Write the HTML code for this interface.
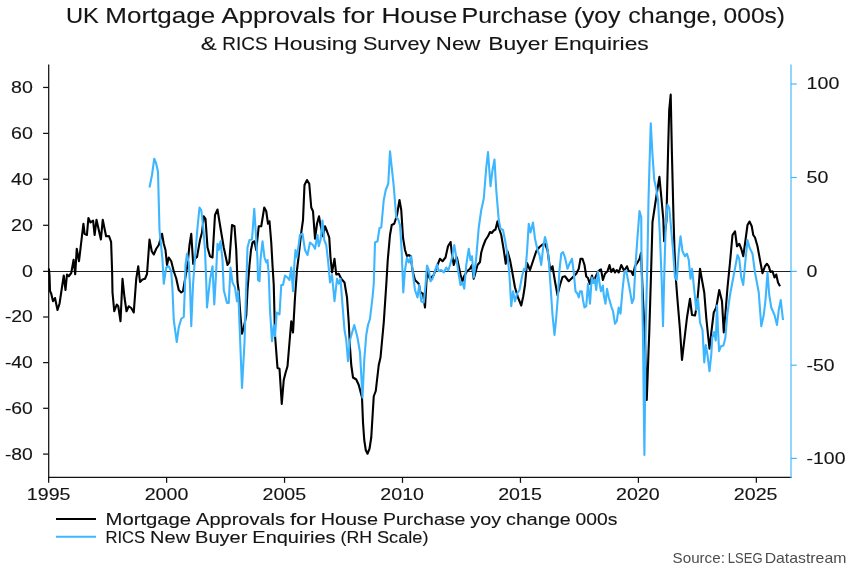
<!DOCTYPE html>
<html><head><meta charset="utf-8"><title>UK Mortgage Approvals</title>
<style>
html,body{margin:0;padding:0;background:#fff;}
body{width:850px;height:568px;overflow:hidden;font-family:"Liberation Sans",sans-serif;}
svg{display:block;will-change:transform;}
text{font-family:"Liberation Sans",sans-serif;fill:#151515;stroke:#151515;stroke-width:0.12px;}
</style></head><body>
<svg width="850" height="568" viewBox="0 0 850 568">
<rect width="850" height="568" fill="#fff"/>
<g id="titles">
<text x="66.00" y="23.10" font-size="21.40" textLength="32.90" lengthAdjust="spacingAndGlyphs">UK</text>
<text x="105.27" y="23.10" font-size="21.40" textLength="109.87" lengthAdjust="spacingAndGlyphs">Mortgage</text>
<text x="221.51" y="23.10" font-size="21.40" textLength="114.21" lengthAdjust="spacingAndGlyphs">Approvals</text>
<text x="342.89" y="23.10" font-size="21.40" textLength="31.63" lengthAdjust="spacingAndGlyphs">for</text>
<text x="381.59" y="23.10" font-size="21.40" textLength="75.71" lengthAdjust="spacingAndGlyphs">House</text>
<text x="461.47" y="23.10" font-size="21.40" textLength="105.85" lengthAdjust="spacingAndGlyphs">Purchase</text>
<text x="573.69" y="23.10" font-size="21.40" textLength="46.78" lengthAdjust="spacingAndGlyphs">(yoy</text>
<text x="628.34" y="23.10" font-size="21.40" textLength="89.13" lengthAdjust="spacingAndGlyphs">change,</text>
<text x="723.63" y="23.10" font-size="21.40" textLength="61.31" lengthAdjust="spacingAndGlyphs">000s)</text>
<text x="200.70" y="49.70" font-size="18.50" textLength="15.93" lengthAdjust="spacingAndGlyphs">&amp;</text>
<text x="222.30" y="49.70" font-size="18.50" textLength="45.27" lengthAdjust="spacingAndGlyphs">RICS</text>
<text x="273.23" y="49.70" font-size="18.50" textLength="84.06" lengthAdjust="spacingAndGlyphs">Housing</text>
<text x="362.95" y="49.70" font-size="18.50" textLength="67.28" lengthAdjust="spacingAndGlyphs">Survey</text>
<text x="435.89" y="49.70" font-size="18.50" textLength="44.42" lengthAdjust="spacingAndGlyphs">New</text>
<text x="488.38" y="49.70" font-size="18.50" textLength="59.72" lengthAdjust="spacingAndGlyphs">Buyer</text>
<text x="553.76" y="49.70" font-size="18.50" textLength="94.99" lengthAdjust="spacingAndGlyphs">Enquiries</text>
</g>
<g stroke="#111" stroke-width="1.25" fill="none">
<line x1="48.7" y1="64.5" x2="48.7" y2="478.075"/>
<line x1="48.075" y1="477.45" x2="791.6" y2="477.45"/>
<line x1="48.7" y1="271.4" x2="791" y2="271.4" stroke-width="1.05" stroke="#222"/>
<line x1="43.1" y1="454.10" x2="48.7" y2="454.10"/>
<line x1="43.1" y1="408.30" x2="48.7" y2="408.30"/>
<line x1="43.1" y1="362.60" x2="48.7" y2="362.60"/>
<line x1="43.1" y1="317.00" x2="48.7" y2="317.00"/>
<line x1="43.1" y1="271.40" x2="48.7" y2="271.40"/>
<line x1="43.1" y1="225.30" x2="48.7" y2="225.30"/>
<line x1="43.1" y1="179.25" x2="48.7" y2="179.25"/>
<line x1="43.1" y1="133.40" x2="48.7" y2="133.40"/>
<line x1="43.1" y1="87.45" x2="48.7" y2="87.45"/>
<line x1="48.65" y1="477.45" x2="48.65" y2="482.85"/>
<line x1="166.60" y1="477.45" x2="166.60" y2="482.85"/>
<line x1="284.55" y1="477.45" x2="284.55" y2="482.85"/>
<line x1="402.50" y1="477.45" x2="402.50" y2="482.85"/>
<line x1="520.45" y1="477.45" x2="520.45" y2="482.85"/>
<line x1="638.40" y1="477.45" x2="638.40" y2="482.85"/>
<line x1="756.35" y1="477.45" x2="756.35" y2="482.85"/>
</g>
<g stroke="#3eb6ff" stroke-width="1.15" fill="none">
<line x1="791" y1="64.5" x2="791" y2="478.05"/>
<line x1="791" y1="458.40" x2="796.8" y2="458.40"/>
<line x1="791" y1="365.20" x2="796.8" y2="365.20"/>
<line x1="791" y1="271.40" x2="796.8" y2="271.40"/>
<line x1="791" y1="177.50" x2="796.8" y2="177.50"/>
<line x1="791" y1="84.00" x2="796.8" y2="84.00"/>
</g>
<g id="ticklabels">
<text x="4.91" y="459.55" font-size="16.4" textLength="27.99" lengthAdjust="spacingAndGlyphs">-80</text>
<text x="4.91" y="413.75" font-size="16.4" textLength="27.99" lengthAdjust="spacingAndGlyphs">-60</text>
<text x="4.91" y="368.05" font-size="16.4" textLength="27.99" lengthAdjust="spacingAndGlyphs">-40</text>
<text x="4.91" y="322.45" font-size="16.4" textLength="27.99" lengthAdjust="spacingAndGlyphs">-20</text>
<text x="21.98" y="276.85" font-size="16.4" textLength="10.92" lengthAdjust="spacingAndGlyphs">0</text>
<text x="11.06" y="230.75" font-size="16.4" textLength="21.84" lengthAdjust="spacingAndGlyphs">20</text>
<text x="11.06" y="184.70" font-size="16.4" textLength="21.84" lengthAdjust="spacingAndGlyphs">40</text>
<text x="11.06" y="138.85" font-size="16.4" textLength="21.84" lengthAdjust="spacingAndGlyphs">60</text>
<text x="11.06" y="92.90" font-size="16.4" textLength="21.84" lengthAdjust="spacingAndGlyphs">80</text>
<text x="806.60" y="463.70" font-size="16.4" textLength="38.91" lengthAdjust="spacingAndGlyphs">-100</text>
<text x="806.60" y="370.50" font-size="16.4" textLength="27.99" lengthAdjust="spacingAndGlyphs">-50</text>
<text x="806.60" y="276.70" font-size="16.4" textLength="10.92" lengthAdjust="spacingAndGlyphs">0</text>
<text x="806.60" y="182.80" font-size="16.4" textLength="21.84" lengthAdjust="spacingAndGlyphs">50</text>
<text x="806.60" y="89.30" font-size="16.4" textLength="32.76" lengthAdjust="spacingAndGlyphs">100</text>
<text x="26.86" y="499.6" font-size="16.4" textLength="43.68" lengthAdjust="spacingAndGlyphs">1995</text>
<text x="144.69" y="499.6" font-size="16.4" textLength="43.68" lengthAdjust="spacingAndGlyphs">2000</text>
<text x="262.53" y="499.6" font-size="16.4" textLength="43.68" lengthAdjust="spacingAndGlyphs">2005</text>
<text x="380.36" y="499.6" font-size="16.4" textLength="43.68" lengthAdjust="spacingAndGlyphs">2010</text>
<text x="498.20" y="499.6" font-size="16.4" textLength="43.68" lengthAdjust="spacingAndGlyphs">2015</text>
<text x="616.03" y="499.6" font-size="16.4" textLength="43.68" lengthAdjust="spacingAndGlyphs">2020</text>
<text x="733.87" y="499.6" font-size="16.4" textLength="43.68" lengthAdjust="spacingAndGlyphs">2025</text>
</g>
<polyline fill="none" stroke="#000" stroke-width="2.1" stroke-linejoin="round" stroke-linecap="butt" points="48.9,268.5 49.5,275 50,291 51.25,293.75 53,301.25 55,298 57.5,310 59.5,303.75 63.75,275.5 65.5,290 67,274.5 68.75,276.25 71.25,273 73.6,259.7 75.2,274.3 76.75,248.75 79,261.25 83.4,223.75 84.6,233.75 86.9,235 88.4,218 90.5,222.5 93.1,220.6 94.6,235 96.5,219.75 100.9,239.4 102.75,219.75 106.1,236.25 109,236 111.1,241.9 112.1,271 112.5,292.5 114.25,311.25 116.75,304.5 118.25,306.25 120.5,321.25 122.5,278.75 124.5,297.5 126.5,311.25 128.75,306.25 131.25,308 133.75,312.5 136.25,278.75 138.25,266.25 140,282 142.5,279.5 145,278.75 147,274 149.5,239.5 151.75,251.25 153.75,254.5 156.25,248.75 158.75,245 162,233.75 163.75,243.75 165.5,250 167,265 168.75,257.5 171.25,261.25 173.75,271.25 176.25,278.5 178.75,290 181.25,292.5 183,291.25 184.5,282.5 187.5,265 189.5,245 191.25,233.75 193.2,264 195.2,258.5 197,257 200,240 202,232.5 203.75,216.25 205.5,218.75 207.5,247.5 210,256.25 212.5,257.5 215,215 217.5,209.5 220,225 223.75,247.5 227.5,265 229.25,262.5 232,225 234.5,226.25 236.25,250 237.5,282 238.75,291.25 240,310 242,333.75 243.75,327.5 246.25,315.5 247.5,290 249.5,265 251,250 252.5,242.5 254.5,241.25 256.25,250 258.75,226.25 261.25,226.25 264.25,207.5 266.25,211.25 268,223.75 269.5,221.25 271.25,242.5 272.5,265 273.75,285 275,335 277.5,368 279.5,368.75 281.75,404 283.75,380 285.5,373 287.5,366.25 291.25,321.25 293,332.5 295,297.5 297,270 298.5,257.5 301.25,232.5 303,220 304.5,185 307,180 309.25,183.75 311.25,207.5 313,211.25 315,238.75 317,223.75 319,216.25 320.5,225 323,236.25 325,226.25 327,231.25 329.25,237.5 330.5,257.5 332,272.5 334.5,258.75 336.25,274.5 338.75,273.75 341.25,278.75 344.5,282.5 347,297.5 348.75,322.5 350,347.5 351.25,365 353,377.5 356.25,379.5 358.75,385 362,397.5 363,422.5 364.25,440 365.75,450 367.5,453.75 369.5,448.75 371.25,437.5 373.75,396.25 375.75,391 378.75,365 380.5,357.5 383.75,322.5 386.25,285 387.75,260 390,235 391.75,225 394.25,223.75 397,215 399.5,200 401.25,210 403,237.5 405,250 407,256.25 408.75,255 410.75,256.25 412.5,270.5 415,280 418.75,283.75 420.5,292.5 423,293.75 425,307.5 427,272 430,279 433.75,275 437.5,265 440,258.75 442.5,261.25 445.5,257.5 448,246.25 450.6,242 451.9,253.75 453.75,265 455.25,260 456.9,257.5 458.75,266.25 460.6,275 462.5,281.25 464.2,276 467,271.25 470,268.75 472,265 473.75,278.75 475.5,272.5 477.5,265 480,262 481.25,252.5 483,246.5 485.5,240 488,236.25 490,232 491.75,233 493.75,230.5 495.5,229.5 497.5,221.25 498.75,227.5 501.25,235 503.75,250 505.75,263.75 507.5,251.25 510,260 512.25,272 515,287.5 518,297.5 521.25,305.5 523.25,296.25 525,285 527,263 530,270 532.5,262.5 536.25,251.25 539.5,247 542.5,244.5 545,243.75 547.5,250 550.25,270.5 552.5,266.25 555,281.5 557.5,295 560,285 562.5,277 565,276.25 568.75,281.25 572.5,277.5 576.25,273.75 578.75,268.75 580.5,258.75 582.5,258.75 584.5,265 586.25,276.5 588,278 589.75,284 592,275.5 593.5,282.5 595.5,277 597.9,271.9 599.75,270 601,269.4 602.9,280 605,273.75 607.5,271.25 609.5,265 611.25,272 613.25,268.75 615,272.5 616.75,270 618.75,272.5 621.25,265 623.75,270 625.5,268.75 627,266.25 628.75,271.25 631.25,271.25 633,275 635,266.25 637.5,262.5 639.5,259 641,253 642.5,287.5 645,342 646.75,400 648.4,355 649.25,333 651.0,275 652.5,222 656.25,197 659.4,176.8 661.3,197 663.3,219 664.1,241.25 665.2,231 666.4,221 668.1,150 669.2,110 670.7,94.5 671.9,153 673.6,221 674.5,250 675.75,277.5 677.5,300 680,330 682,360 683.75,345 687,317.5 690,298.75 692,315 695,315.5 697,305 698.75,285 700,268.75 702,280 704.25,292.5 706.25,317.5 708,335 709.5,348.75 711.25,333 713.75,312.5 716.25,307.5 719.25,290 722,301.25 723.75,332.5 725.5,312.5 727.5,287.5 730,262.5 732.5,235 735,231.25 737,246.25 739.25,243.75 741.25,248.75 743.25,256.25 745.5,240 747.5,225 749.5,221.5 751.75,226.25 753.25,235 755,237.5 757.5,246.25 760,260 762.5,273.25 765,266.25 767,263.75 768.75,266.25 770.5,272 772.5,271.25 774.5,277.5 776.25,274.5 778,282.5 780,286.25"/>
<polyline fill="none" stroke="#3eb6ff" stroke-width="2.1" stroke-linejoin="round" stroke-linecap="butt" points="149.5,187.5 152,175 154.25,158.75 156.25,163.75 158,172 159.5,230 162.5,260 163.75,283.75 166.25,267.5 168.75,266.25 171.25,271.25 172.5,290 173.75,320 176.75,342 178.75,327.5 181.25,318.75 183.75,317 185,285 185.5,265 187,253.75 188.75,262.5 190,285 191.25,326.25 193,285 195,257.5 197.5,227.5 199.5,207.5 201.25,210 203,225 205,250 206.25,282 207,307.5 210,280 212.5,266.25 214.25,304.5 216,275 217.5,243.75 218.75,250 220.5,241.25 222.5,260 223.75,290 227,303 228.75,303 230.5,267.5 232.5,282.5 235,287.5 237,301.25 238.25,291.25 242,388 244.5,342.5 246.25,285 247.5,247.5 249.5,240 252,239.5 254.25,208.75 256.25,240 257.5,260 258,280 259.5,281.25 260.5,260 261.25,252.5 262.5,241.25 264.5,257.5 266.25,262.5 267.5,260 268.75,275 270,310 272,341.25 273.75,325 275,336.25 276.75,312.5 279.5,314.5 281.25,285 283,285 285,275.5 287.5,277.5 289.5,280 291.25,267.5 293,291.25 294.5,262 295.5,250 297,257.5 300,235 302.5,233.75 305,250 307.5,255 310,242.5 313,245 315,248.75 317.5,235 318.75,246.25 320.5,240 322.5,220.5 324.25,240 326.25,245 328,260 330,282.5 332,275 334.5,301.25 337,278.75 338.75,283.75 340.5,278.75 342.5,305 344.5,330 346.25,340 348,361.25 350,340 354.25,325 357.5,337.5 360,352.5 362.5,397.5 364.25,360 366.25,335 368,325 370,318.75 372.5,297.5 373.75,284 375,242.5 377.5,241.25 379.5,228 381.25,227.5 383.75,200 385.75,190 388.25,183.75 390,151.25 391.75,167.5 393.75,186.25 396.25,217.5 398,218.75 400,225 401.75,252.5 403.25,292.5 405,270 407,257.5 408.75,262.5 411.25,256.25 412.5,271 415,290 417.5,297.5 419.25,285 421.25,301.25 423.75,302.5 425.5,285 427,265.5 428.75,270 430.5,281.25 432.5,278.75 434.5,272.5 437,264.5 438.75,271.25 441.25,270 443.75,272.5 446.25,267.5 448.25,270.5 450,265 452,257.5 454.25,245 456.25,257.5 458.5,273 460.5,285 462.5,282.5 464.25,288.75 466.25,265 468.75,248.75 470.5,260 472,256.25 473.75,277.5 476,260 478.75,227.5 481.25,210 483.75,198.75 486.25,167.5 488,152 490.5,186.25 492.5,170 494.5,159.5 496.25,190 498.75,220 500.5,228.75 503,230 505,240 507.5,255 509.5,276 511.25,306.25 513,291.25 515,301.25 517,293.75 519.5,290 522,276.5 524,268.75 525.5,270 527,252 528.75,223.75 530.5,232.5 533,222.5 535,238.75 537.5,250 539.5,255 541.25,265 543.25,246.5 545,237 547,245 548.5,257 550,278 552.5,315 554.5,335 556.25,317.5 558,295 559.5,270 561.25,253.75 563,252 565,257.5 567.5,268.75 569.5,263.75 572,258.75 573.75,272.5 575.5,291.25 577.5,293.75 578.75,297.5 580,291.25 581.75,291.25 583,300 584.5,307.5 586.25,306.25 588,283.75 590,303.75 591.75,277.5 593.5,283 594.75,279.4 596.25,290 597.9,271.5 599.5,283 601,291.25 602.9,285.6 603.75,295 605.5,303.75 607,288.75 608.75,297.5 611.25,306.25 613,311.25 615,323.75 616.75,321.25 618.75,307.5 620.5,313.75 622.5,290 624.5,271.5 626.25,271.25 628,280 630,291 632,303 633.75,298.5 635.5,265 637.5,237 639.5,211 641.25,217.5 641.5,262 642.9,333 644.4,455 645.0,400 645.6,333 647.4,262 648.5,200 649.5,165 650.75,123.25 652.5,155 654.25,180 656.25,188.75 658,200 660,237.5 661.75,282.5 663,326.25 664.25,275 665.75,225 667.5,204.5 669.25,208 671.25,230 673,250 675,277.5 676.75,280 678.75,252.5 680.5,236.25 682.5,251.25 685,256.25 687,253.75 688.75,260 690.5,278.75 692,268.75 693.75,285 696.25,310 698,298.75 700,322.5 702.5,330 704.25,362.5 705.75,345 707.5,355 709.5,371.25 711.25,355 712.25,337.5 714.1,332 715.75,340.5 717,305.5 717.9,327.5 719.1,351.25 721,346.25 723.5,345.5 725.4,337.5 727.25,315 730,295 733.75,275 737.5,255 739.25,258.75 741.25,277.5 743.25,285 745,265 747.5,240 749.5,247.5 752.5,253.75 755,272.5 758.75,292.5 761.25,326.25 763.75,315 765.5,300 767.5,272.5 769.25,295 771.25,307.5 774.5,315 777,325 778.75,310 780.75,300 783,320"/>
<line x1="56" y1="518.9" x2="96" y2="518.9" stroke="#000" stroke-width="2"/>
<line x1="56" y1="536.8" x2="96" y2="536.8" stroke="#3eb6ff" stroke-width="2"/>
<g id="legend">
<text x="105.50" y="525.20" font-size="16.40" textLength="85.59" lengthAdjust="spacingAndGlyphs">Mortgage</text>
<text x="196.05" y="525.20" font-size="16.40" textLength="88.96" lengthAdjust="spacingAndGlyphs">Approvals</text>
<text x="289.97" y="525.20" font-size="16.40" textLength="25.81" lengthAdjust="spacingAndGlyphs">for</text>
<text x="320.74" y="525.20" font-size="16.40" textLength="57.26" lengthAdjust="spacingAndGlyphs">House</text>
<text x="382.96" y="525.20" font-size="16.40" textLength="82.45" lengthAdjust="spacingAndGlyphs">Purchase</text>
<text x="470.38" y="525.20" font-size="16.40" textLength="30.79" lengthAdjust="spacingAndGlyphs">yoy</text>
<text x="506.12" y="525.20" font-size="16.40" textLength="64.51" lengthAdjust="spacingAndGlyphs">change</text>
<text x="575.60" y="525.20" font-size="16.40" textLength="41.87" lengthAdjust="spacingAndGlyphs">000s</text>
<text x="105.50" y="543.10" font-size="16.40" textLength="39.66" lengthAdjust="spacingAndGlyphs">RICS</text>
<text x="150.13" y="543.10" font-size="16.40" textLength="39.97" lengthAdjust="spacingAndGlyphs">New</text>
<text x="195.06" y="543.10" font-size="16.40" textLength="52.32" lengthAdjust="spacingAndGlyphs">Buyer</text>
<text x="252.34" y="543.10" font-size="16.40" textLength="83.23" lengthAdjust="spacingAndGlyphs">Enquiries</text>
<text x="340.53" y="543.10" font-size="16.40" textLength="31.55" lengthAdjust="spacingAndGlyphs">(RH</text>
<text x="377.04" y="543.10" font-size="16.40" textLength="51.40" lengthAdjust="spacingAndGlyphs">Scale)</text>
</g>
<text x="672.60" y="563.40" font-size="14.30" textLength="52.27" lengthAdjust="spacingAndGlyphs" style="fill:#4d4d4d;stroke:none">Source:</text>
<text x="727.85" y="563.40" font-size="14.30" textLength="34.82" lengthAdjust="spacingAndGlyphs" style="fill:#4d4d4d;stroke:none">LSEG</text>
<text x="764.65" y="563.40" font-size="14.30" textLength="81.73" lengthAdjust="spacingAndGlyphs" style="fill:#4d4d4d;stroke:none">Datastream</text>
</svg>
</body></html>
